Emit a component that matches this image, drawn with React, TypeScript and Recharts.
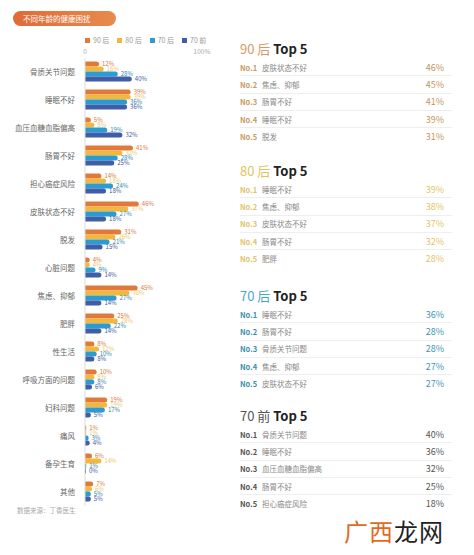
import React from 'react';
import { BarChart, Bar, XAxis, YAxis, LabelList } from 'recharts';

const categories = [
  '骨质关节问题', '睡眠不好', '血压血糖血脂偏高', '肠胃不好', '担心癌症风险', '皮肤状态不好',
  '脱发', '心脏问题', '焦虑、抑郁', '肥胖', '性生活', '呼吸方面的问题', '妇科问题', '痛风',
  '备孕生育', '其他',
];

const gen90 = [12, 39, 5, 41, 14, 46, 31, 4, 45, 25, 8, 10, 19, 1, 6, 7];
const gen80 = [16, 39, 8, 32, 18, 37, 26, 4, 38, 28, 12, 8, 19, 1, 14, 6];
const gen70 = [28, 36, 19, 28, 24, 27, 21, 9, 27, 22, 10, 8, 17, 3, 1, 5];
const pre70 = [40, 36, 32, 25, 18, 18, 15, 14, 14, 14, 8, 6, 5, 4, 0, 5];

const axisTicks = [0, 100];

const top90Names = ['皮肤状态不好', '焦虑、抑郁', '肠胃不好', '睡眠不好', '脱发'];
const top90Values = [46, 45, 41, 39, 31];
const top80Names = ['睡眠不好', '焦虑、抑郁', '皮肤状态不好', '肠胃不好', '肥胖'];
const top80Values = [39, 38, 37, 32, 28];
const top70Names = ['睡眠不好', '肠胃不好', '骨质关节问题', '焦虑、抑郁', '皮肤状态不好'];
const top70Values = [36, 28, 28, 27, 27];
const pre70Names = ['骨质关节问题', '睡眠不好', '血压血糖血脂偏高', '肠胃不好', '担心癌症风险'];
const pre70Values = [40, 36, 32, 25, 18];

const FONT = '"Noto Sans CJK SC", "Noto Sans", sans-serif';

const series = [
  { key: 'g90', name: '90 后', color: '#e2793c', label: '#d9773e' },
  { key: 'g80', name: '80 后', color: '#f4b73a', label: '#ecc86a' },
  { key: 'g70', name: '70 后', color: '#2b9bd3', label: '#2f86b4' },
  { key: 'p70', name: '70 前', color: '#3e5ea8', label: '#3f5a96' },
];

const data = categories.map((name, i) => ({
  name,
  g90: gen90[i],
  g80: gen80[i],
  g70: gen70[i],
  p70: pre70[i],
}));

const panels = [
  { head: '90 后', headColor: '#d39a62', noColor: '#c99a66', valColor: '#c9935c', names: top90Names, values: top90Values, top: 39 },
  { head: '80 后', headColor: '#e4c35e', noColor: '#e1c46c', valColor: '#e3c466', names: top80Names, values: top80Values, top: 161 },
  { head: '70 后', headColor: '#4aa7c8', noColor: '#3c8fae', valColor: '#3f96b5', names: top70Names, values: top70Values, top: 286 },
  { head: '70 前', headColor: '#555', noColor: '#555', valColor: '#555', names: pre70Names, values: pre70Values, top: 406 },
];

function TopPanel({ p }: { p: (typeof panels)[number] }) {
  return (
    <div style={{ position: 'absolute', left: 240, top: p.top, width: 212, fontFamily: FONT }}>
      <div style={{ fontSize: 13, fontWeight: 700, color: '#222', height: 20, lineHeight: '20px' }}>
        <span style={{ color: p.headColor, fontWeight: 400 }}>{p.head}</span> Top 5
      </div>
      {p.names.map((n, i) => (
        <div
          key={n}
          style={{
            display: 'flex',
            alignItems: 'center',
            height: 16.3,
            fontSize: 7.5,
            borderBottom: i < 4 ? '1px solid #eee' : 'none',
          }}
        >
          <span style={{ color: p.noColor, width: 22, fontWeight: 700 }}>No.{i + 1}</span>
          <span style={{ color: '#888', flex: 1 }}>{n}</span>
          <span style={{ color: p.valColor, fontSize: 9, marginRight: 8 }}>{p.values[i]}%</span>
        </div>
      ))}
    </div>
  );
}

export default function App() {
  return (
    <div style={{ position: 'absolute', left: 0, top: 0, width: 474, height: 555, background: '#fff', fontFamily: FONT }}>
      <div
        style={{
          position: 'absolute', left: 13, top: 11, width: 103, height: 15, borderRadius: 8,
          background: 'linear-gradient(90deg, #e06a35, #e88a4e)', color: '#fff', fontSize: 7.5,
          lineHeight: '15px', paddingLeft: 10, boxSizing: 'border-box',
        }}
      >
        不同年龄的健康困扰
      </div>
      <div style={{ position: 'absolute', left: 85, top: 35, display: 'flex', fontSize: 7, color: '#999' }}>
        {series.map((s) => (
          <div key={s.key} style={{ display: 'flex', alignItems: 'center', marginRight: 8 }}>
            <span style={{ width: 5, height: 5, background: s.color, display: 'inline-block', marginRight: 3 }} />
            {s.name}
          </div>
        ))}
      </div>
      <div style={{ position: 'absolute', left: 0, top: 0 }}>
        <BarChart
          width={230}
          height={520}
          data={data}
          layout="vertical"
          margin={{ top: 46, right: 28, bottom: 14, left: 0 }}
          barCategoryGap={3.5}
          barGap={0}
        >
          <XAxis
            type="number"
            orientation="top"
            domain={[0, 100]}
            ticks={axisTicks}
            height={12}
            axisLine={false}
            tickLine={false}
            tickSize={0}
            tickMargin={4}
            tick={{ fontSize: 6.5, fill: '#aaa', fontFamily: FONT }}
            tickFormatter={(v: number) => (v === 100 ? '100%' : String(v))}
          />
          <YAxis
            type="category"
            dataKey="name"
            width={85}
            axisLine={{ stroke: '#ddd' }}
            tickLine={false}
            tickSize={0}
            tickMargin={10}
            interval={0}
            tick={{ fontSize: 7.5, fill: '#666', fontFamily: FONT }}
          />
          {series.map((s) => (
            <Bar
              key={s.key}
              dataKey={s.key}
              name={s.name}
              fill={s.color}
              radius={[0, 3, 3, 0]}
              minPointSize={1}
              isAnimationActive={false}
            >
              <LabelList
                dataKey={s.key}
                position="right"
                offset={3}
                formatter={(v: number) => `${v}%`}
                style={{ fontSize: 6, fill: s.label, fontFamily: FONT }}
              />
            </Bar>
          ))}
        </BarChart>
      </div>
      <div style={{ position: 'absolute', left: 17, top: 505, fontSize: 6.5, color: '#aaa' }}>数据来源：丁香医生</div>
      {panels.map((p) => (
        <TopPanel key={p.head} p={p} />
      ))}
      <div style={{ position: 'absolute', left: 344, top: 513, fontSize: 24, letterSpacing: 1 }}>
        <span style={{ color: '#e4691f' }}>广西</span>
        <span style={{ color: '#222' }}>龙网</span>
      </div>
    </div>
  );
}
